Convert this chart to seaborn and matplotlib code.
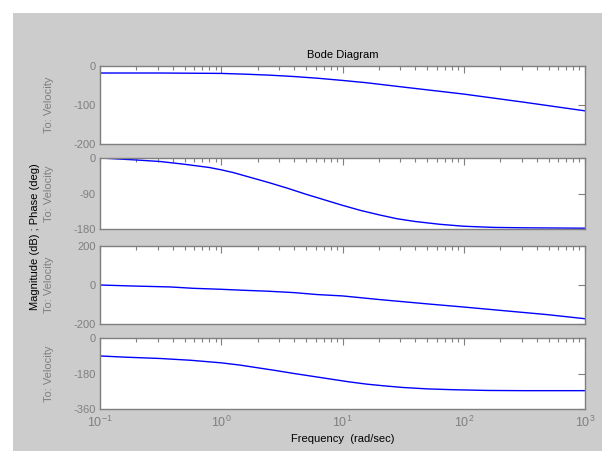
import numpy as np
import pandas as pd
import seaborn as sns
import matplotlib.pyplot as plt
from matplotlib.patches import Rectangle
from matplotlib.ticker import LogLocator, NullFormatter, FixedLocator

sns.set_style("white")
plt.rcParams['font.family'] = ['Liberation Sans', 'DejaVu Sans']

# frequency points (log10 of rad/sec), one set per panel
mag1_logw = [-1.0, -0.5, 0.0, 0.2, 0.4, 0.6, 0.8, 1.0, 1.2, 1.5, 1.75, 2.0, 2.5, 3.0]
mag1_db = [-18, -18, -19, -21, -23.5, -27, -31.5, -37, -43, -54, -63, -72, -93, -115]

ph1_logw = [-1.0, -0.7, -0.5, -0.3, -0.1, 0.0, 0.1, 0.25, 0.4, 0.55, 0.7, 0.85,
            1.0, 1.15, 1.3, 1.45, 1.6, 1.8, 2.0, 2.25, 2.5, 3.0]
ph1_deg = [0, -5, -9, -16, -24, -30, -37, -50, -63, -77, -92, -106,
           -120, -133, -144, -154, -161, -168, -173, -176, -177, -178]

mag2_logw = [-1.0, -0.74, -0.42, -0.23, 0.0, 0.18, 0.39, 0.6, 0.79, 1.0, 1.31, 1.72, 2.0, 2.3, 2.69, 3.0]
mag2_db = [0, -5, -10, -17, -22, -27, -32, -39, -49, -56, -75, -98, -113, -130, -152, -173]

ph2_logw = [-1.0, -0.8, -0.5, -0.25, 0.0, 0.15, 0.3, 0.45, 0.6, 0.75, 0.9, 1.05,
            1.2, 1.35, 1.5, 1.7, 1.9, 2.2, 2.5, 3.0]
ph2_deg = [-91, -97, -104, -113, -126, -137, -151, -165, -180, -194, -208, -222,
           -234, -243, -251, -258, -262, -266, -267, -267]

panels = [
    (mag1_logw, mag1_db, (-200, 0), [0, -100, -200]),
    (ph1_logw, ph1_deg, (-180, 0), [0, -90, -180]),
    (mag2_logw, mag2_db, (-200, 200), [200, 0, -200]),
    (ph2_logw, ph2_deg, (-360, 0), [0, -180, -360]),
]

# pixel rows (top, bottom) of each panel in the 613x451 image
rows = [(66, 144), (158, 229), (246, 324), (338, 409)]

W, H = 613, 451
fig = plt.figure(figsize=(W / 100, H / 100), dpi=100, facecolor="white")
fig.patches.append(Rectangle((13 / W, 0), 589 / W, (H - 13) / H,
                             transform=fig.transFigure, facecolor="#cccccc",
                             edgecolor="none", zorder=-10))

grey = "#7f7f7f"
for i, ((lw, vals, ylim, yt), (top, bot)) in enumerate(zip(panels, rows)):
    ax = fig.add_axes([100 / W, 1 - bot / H, 485 / W, (bot - top) / H])
    df = pd.DataFrame({"w": 10 ** np.array(lw), "v": vals})
    sns.lineplot(data=df, x="w", y="v", ax=ax, color="#0000ff", linewidth=1.0)
    ax.set_xscale("log")
    ax.set_xlim(0.1, 1000)
    ax.set_ylim(*ylim)
    ax.yaxis.set_major_locator(FixedLocator(yt))
    ax.set_yticklabels([str(t) for t in yt])
    ax.xaxis.set_major_locator(LogLocator(base=10, numticks=10))
    ax.xaxis.set_minor_locator(LogLocator(base=10, subs=np.arange(2, 10), numticks=20))
    ax.xaxis.set_minor_formatter(NullFormatter())
    ax.tick_params(axis="both", which="both", direction="in", top=True, right=True,
                   colors=grey, labelcolor=grey, labelsize=8, width=0.8)
    ax.tick_params(axis="both", which="major", length=5, pad=3)
    ax.tick_params(axis="x", which="minor", length=3)
    for s in ax.spines.values():
        s.set_color(grey)
        s.set_linewidth(1.0)
    ax.set_xlabel("")
    ax.set_ylabel("To: Velocity", color=grey, fontsize=8, labelpad=6)
    ax.yaxis.set_label_coords(-0.095, 0.5)
    ax.set_facecolor("white")
    if i < 3:
        ax.tick_params(axis="x", labelbottom=False)
    else:
        ax.tick_params(axis="x", pad=4, labelsize=9)
        ax.set_xlabel("Frequency  (rad/sec)", color="black", fontsize=8, labelpad=3)
    if i == 0:
        ax.set_title("Bode Diagram", fontsize=8, color="black", pad=6)

fig.text(35 / W, 1 - 237 / H, "Magnitude (dB) ; Phase (deg)", rotation=90,
         ha="center", va="center", fontsize=8, color="black")

fig.savefig("out.png", dpi=100, facecolor="white")
